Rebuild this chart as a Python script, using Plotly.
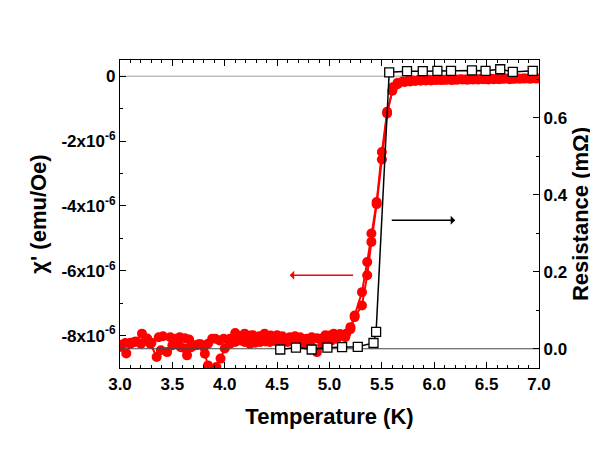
import plotly.graph_objects as go

# ---- data ----
# AC susceptibility chi' (units of 1e-6 emu/Oe), two sweeps
chiA_T = [3.00, 3.05, 3.10, 3.15, 3.21, 3.26, 3.30, 3.37, 3.41, 3.48, 3.53, 3.57, 3.62, 3.66,
          3.70, 3.75, 3.80, 3.84, 3.88, 3.91, 3.95, 3.99, 4.05, 4.10, 4.15, 4.19, 4.25, 4.27,
          4.33, 4.38, 4.44, 4.50, 4.55, 4.62, 4.67, 4.72, 4.78, 4.83, 4.88, 4.91, 4.96, 5.00,
          5.04, 5.10, 5.15, 5.20, 5.24, 5.31, 5.36, 5.40, 5.45, 5.50, 5.55, 5.61, 5.65, 5.70,
          5.75, 5.80, 5.85, 5.90, 5.95, 6.00, 6.05, 6.10, 6.15, 6.20, 6.25, 6.30, 6.35, 6.40,
          6.45, 6.50, 6.55, 6.60, 6.65, 6.70, 6.75, 6.80, 6.85, 6.90, 6.95, 7.00]
chiA = [-8.28, -8.23, -8.22, -8.18, -7.94, -8.09, -8.22, -8.05, -8.02, -8.05, -8.10, -8.05, -8.08, -8.12,
        -8.30, -8.27, -8.35, -8.25, -8.10, -8.10, -8.15, -8.10, -8.10, -7.92, -8.05, -7.94, -8.00, -7.99,
        -8.02, -7.94, -8.00, -7.99, -8.02, -8.05, -8.02, -8.05, -8.10, -8.05, -8.08, -8.10, -7.99, -8.00,
        -7.94, -7.95, -8.05, -7.74, -7.38, -6.66, -5.73, -4.85, -3.88, -2.34, -1.10, -0.33, -0.20, -0.16,
        -0.14, -0.13, -0.12, -0.12, -0.11, -0.11, -0.10, -0.11, -0.10, -0.10, -0.09, -0.10, -0.09, -0.09,
        -0.08, -0.09, -0.08, -0.08, -0.08, -0.07, -0.08, -0.07, -0.07, -0.07, -0.06, -0.07]

chiB_T = [3.00, 3.06, 3.10, 3.14, 3.20, 3.25, 3.29, 3.35, 3.39, 3.45, 3.50, 3.55, 3.58, 3.62,
          3.64, 3.68, 3.73, 3.77, 3.81, 3.84, 3.88, 3.92, 3.96, 4.00, 4.05, 4.10, 4.15, 4.19,
          4.24, 4.29, 4.34, 4.39, 4.43, 4.49, 4.56, 4.60, 4.66, 4.71, 4.76, 4.82, 4.88, 4.93,
          4.98, 5.02, 5.07, 5.12, 5.16, 5.20, 5.24, 5.31, 5.36, 5.40, 5.45, 5.50, 5.55, 5.60,
          5.65, 5.72, 5.77, 5.82, 5.87, 5.92, 5.97, 6.02, 6.07, 6.12, 6.17, 6.22, 6.27, 6.32,
          6.37, 6.42, 6.47, 6.52, 6.57, 6.62, 6.67, 6.72, 6.77, 6.82, 6.87, 6.92, 6.97]
chiB = [-8.35, -8.55, -8.25, -8.20, -8.25, -8.15, -8.25, -8.66, -8.45, -8.51, -8.30, -8.25, -8.36, -8.40,
        -8.61, -8.36, -8.30, -8.27, -8.56, -8.92, -9.10, -8.97, -8.71, -8.40, -8.25, -8.20, -8.15, -8.20,
        -8.25, -8.22, -8.20, -8.18, -8.20, -8.18, -8.15, -8.20, -8.18, -8.22, -8.25, -8.30, -8.51, -8.30,
        -8.20, -8.15, -8.10, -8.00, -7.94, -7.80, -7.43, -7.07, -6.14, -5.11, -3.95, -2.57, -1.15, -0.45,
        -0.25, -0.18, -0.16, -0.15, -0.14, -0.13, -0.13, -0.12, -0.12, -0.11, -0.12, -0.11, -0.10, -0.11,
        -0.10, -0.10, -0.09, -0.10, -0.09, -0.09, -0.08, -0.09, -0.08, -0.08, -0.07, -0.08, -0.07]

# Resistance (mOhm)
R_T = [4.53, 4.68, 4.83, 4.98, 5.12, 5.27, 5.42, 5.445, 5.57, 5.74, 5.89, 6.03, 6.16, 6.36,
       6.49, 6.63, 6.75, 6.94]
R = [-0.002, 0.003, -0.002, 0.003, 0.004, 0.005, 0.015, 0.044, 0.718, 0.721, 0.721, 0.722,
     0.722, 0.723, 0.722, 0.726, 0.719, 0.722]

x_ticks = [3.0, 3.5, 4.0, 4.5, 5.0, 5.5, 6.0, 6.5, 7.0]
x_ticktext = ["3.0", "3.5", "4.0", "4.5", "5.0", "5.5", "6.0", "6.5", "7.0"]
chi_ticks = [0, -2, -4, -6, -8]
chi_ticktext = ["0", "-2x10<sup>-6</sup>", "-4x10<sup>-6</sup>", "-6x10<sup>-6</sup>", "-8x10<sup>-6</sup>"]
R_ticks = [0.0, 0.2, 0.4, 0.6]
R_ticktext = ["0.0", "0.2", "0.4", "0.6"]

FONT = "Liberation Sans, Arial, sans-serif"
RED = "#ff0000"

fig = go.Figure()

# reference lines
fig.add_trace(go.Scatter(x=[3.0, 7.0], y=[0, 0], mode="lines",
                         line=dict(color="#a0a0a0", width=1), hoverinfo="skip", showlegend=False))
fig.add_trace(go.Scatter(x=[3.0, 7.0], y=[0, 0], mode="lines", yaxis="y2",
                         line=dict(color="#444444", width=1), hoverinfo="skip", showlegend=False))

for tx, ty in ((chiA_T, chiA), (chiB_T, chiB)):
    fig.add_trace(go.Scatter(x=tx, y=ty, mode="lines+markers",
                             line=dict(color=RED, width=2),
                             marker=dict(symbol="circle", size=10, color=RED, line=dict(width=0)),
                             cliponaxis=True, showlegend=False))

fig.add_trace(go.Scatter(x=R_T, y=R, mode="lines+markers", yaxis="y2",
                         line=dict(color="black", width=1.5),
                         marker=dict(symbol="square", size=9, color="white",
                                     line=dict(color="black", width=1.3)),
                         showlegend=False))

tickfont = dict(family=FONT, size=17, color="black", weight="bold")
titlefont = dict(family=FONT, size=22, color="black", weight="bold")

# the page body has an 8px margin, so the figure is sized/offset to compensate
fig.update_layout(
    width=590, height=454,
    margin=dict(l=112, r=59, t=52, b=94, autoexpand=False),
    paper_bgcolor="white", plot_bgcolor="white",
    showlegend=False,
    xaxis=dict(range=[3.0, 7.0], tickvals=x_ticks, ticktext=x_ticktext,
               ticks="inside", ticklen=6, tickwidth=1, tickcolor="black",
               minor=dict(dtick=0.1, ticks="inside", ticklen=3, tickcolor="black", tickwidth=1),
               showline=True, linecolor="black", linewidth=1.2, mirror="ticks",
               showgrid=False, zeroline=False, tickfont=tickfont,
               title=dict(text="Temperature (K)", font=titlefont, standoff=16)),
    yaxis=dict(range=[-9.0, 0.5], tickvals=chi_ticks, ticktext=chi_ticktext,
               ticks="inside", ticklen=6, tickwidth=1, tickcolor="black",
               minor=dict(dtick=1, ticks="inside", ticklen=3, tickcolor="black", tickwidth=1),
               showline=True, linecolor="black", linewidth=1.2,
               showgrid=False, zeroline=False, tickfont=tickfont,
               title=dict(text="χ' (emu/Oe)", font=titlefont, standoff=8)),
    yaxis2=dict(range=[-0.05, 0.75], overlaying="y", side="right",
                tickvals=R_ticks, ticktext=R_ticktext,
                ticks="inside", ticklen=6, tickwidth=1, tickcolor="black",
                minor=dict(dtick=0.1, ticks="inside", ticklen=3, tickcolor="black", tickwidth=1),
                showline=True, linecolor="black", linewidth=1.2,
                showgrid=False, zeroline=False, tickfont=tickfont,
                title=dict(text="Resistance (mΩ)", font=titlefont, standoff=4)),
    annotations=[
        dict(x=4.62, y=-6.14, ax=5.24, ay=-6.14, xref="x", yref="y", axref="x", ayref="y",
             showarrow=True, arrowhead=1, arrowsize=1, arrowwidth=1.5, arrowcolor=RED, text=""),
        dict(x=6.20, y=0.334, ax=5.58, ay=0.334, xref="x", yref="y2", axref="x", ayref="y2",
             showarrow=True, arrowhead=1, arrowsize=1, arrowwidth=1.5, arrowcolor="black", text=""),
    ],
)

fig.write_html("out.html")
